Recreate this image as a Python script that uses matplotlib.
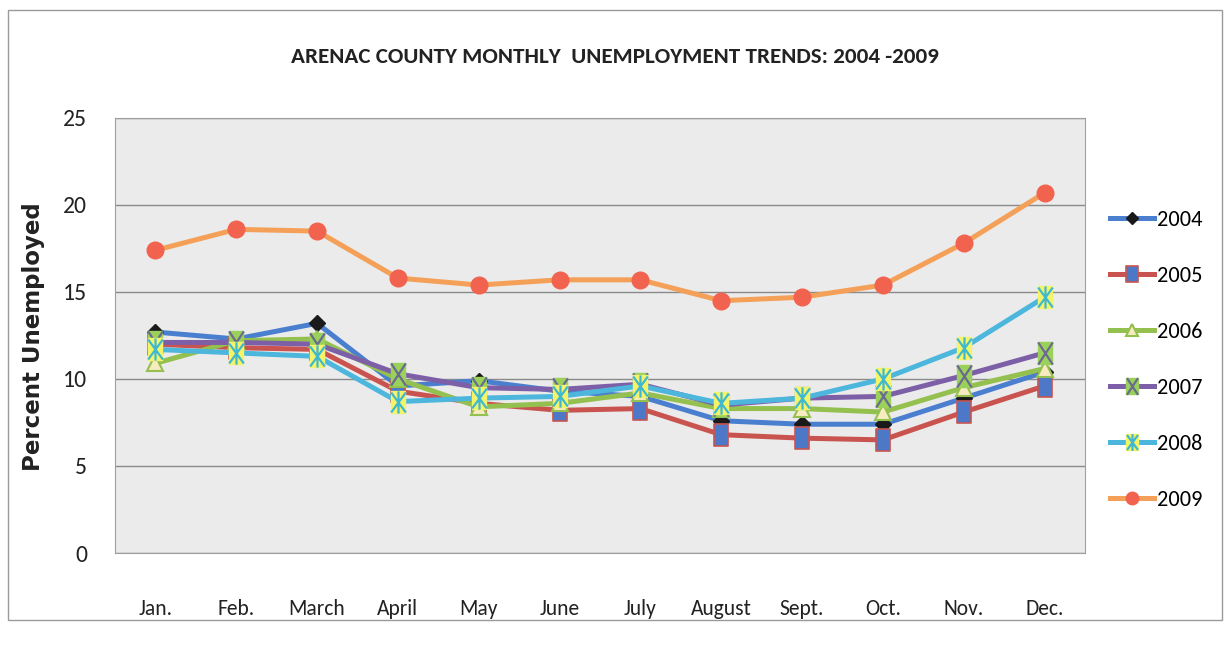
import matplotlib
matplotlib.use("Agg")
import matplotlib.pyplot as plt
from matplotlib import font_manager
from matplotlib.path import Path
from matplotlib.lines import Line2D
from matplotlib.patches import Rectangle
from matplotlib.legend_handler import HandlerTuple

months = ["Jan.", "Feb.", "March", "April", "May", "June", "July",
          "August", "Sept.", "Oct.", "Nov.", "Dec."]
years = ["2004", "2005", "2006", "2007", "2008", "2009"]
y2004 = [12.7, 12.3, 13.2, 9.6, 9.9, 9.3, 9.0, 7.6, 7.4, 7.4, 8.9, 10.4]
y2005 = [12.0, 11.8, 11.7, 9.3, 8.6, 8.2, 8.3, 6.8, 6.6, 6.5, 8.1, 9.6]
y2006 = [10.9, 12.2, 12.3, 10.0, 8.4, 8.6, 9.2, 8.3, 8.3, 8.1, 9.5, 10.6]
y2007 = [12.1, 12.1, 12.0, 10.3, 9.5, 9.4, 9.7, 8.5, 8.9, 9.0, 10.2, 11.5]
y2008 = [11.7, 11.5, 11.3, 8.7, 8.9, 9.0, 9.6, 8.6, 8.9, 10.0, 11.8, 14.7]
y2009 = [17.4, 18.6, 18.5, 15.8, 15.4, 15.7, 15.7, 14.5, 14.7, 15.4, 17.8, 20.7]
yticks = [0, 5, 10, 15, 20, 25]

available = {f.name for f in font_manager.fontManager.ttflist}
cands = ['Carlito', 'Liberation Sans Narrow', 'Lato']
FONT = next((c for c in cands if c in available), 'DejaVu Sans')
plt.rcParams['font.family'] = [FONT, 'DejaVu Sans']

tall = Path([(-0.33, -0.5), (0.33, -0.5), (0.33, 0.5), (-0.33, 0.5), (-0.33, -0.5)],
            [Path.MOVETO, Path.LINETO, Path.LINETO, Path.LINETO, Path.CLOSEPOLY])
tallx = Path([(-0.33, -0.5), (0.33, 0.5), (-0.33, 0.5), (0.33, -0.5)],
             [Path.MOVETO, Path.LINETO, Path.MOVETO, Path.LINETO])
tallstar = Path([(-0.33, -0.45), (0.33, 0.45), (-0.33, 0.45), (0.33, -0.45), (0, -0.5), (0, 0.5)],
                [Path.MOVETO, Path.LINETO, Path.MOVETO, Path.LINETO, Path.MOVETO, Path.LINETO])

line_colors = ['#4a7fcf', '#c9544f', '#93c04e', '#7d5fa8', '#4cb6dc', '#f4a058']

fig = plt.figure(figsize=(12.25, 6.5), dpi=100)
fig.patches.append(Rectangle((8 / 1225, 1 - 620 / 650), 1214 / 1225, 610 / 650,
                             transform=fig.transFigure, fill=False,
                             edgecolor='#9a9a9a', lw=1.0))
ax = fig.add_axes([115 / 1225, 1 - 553 / 650, 970 / 1225, 435 / 650])
ax.set_facecolor('#ebebeb')
x = list(range(len(months)))

lw = 3.6


def styles(k):
    """return (main style, overlay style or None) with marker size factor k"""
    MS = 16 * k
    return [
        (dict(color=line_colors[0], lw=lw, marker='D', ms=8 * k, mfc='#1a1a1a', mec='#1a1a1a'), None),
        (dict(color=line_colors[1], lw=lw, marker=tall, ms=MS, mfc='#4d78c8', mec='#c9544f', mew=1.2), None),
        (dict(color=line_colors[2], lw=lw, marker='^', ms=11 * k, mfc='#f6ecc0', mec='#93c04e', mew=1.5), None),
        (dict(color=line_colors[3], lw=lw, marker=tall, ms=MS, mfc='#9ad15a', mec='#9ad15a'),
         dict(ls='none', marker=tallx, ms=MS, mec='#6b6b8f', mew=1.6)),
        (dict(color=line_colors[4], lw=lw, marker=tall, ms=MS, mfc='#f4f46a', mec='#f4f46a'),
         dict(ls='none', marker=tallstar, ms=MS, mec='#3fb8d0', mew=1.6)),
        (dict(color=line_colors[5], lw=lw, marker='o', ms=12 * k, mfc='#f2634f', mec='#f2634f'), None),
    ]


data = [y2004, y2005, y2006, y2007, y2008, y2009]
for i, ((main, over), ys) in enumerate(zip(styles(1.0), data)):
    ax.plot(x, ys, zorder=3 + i, **main)
    if over is not None:
        ax.plot(x, ys, zorder=3.5 + i, **over)

handles = []
for main, over in styles(0.75):
    h = Line2D([], [], **main)
    if over is not None:
        handles.append((h, Line2D([], [], **over)))
    else:
        handles.append(h)

ax.set_xlim(-0.5, 11.5)
ax.set_ylim(0, 25)
ax.set_yticks(yticks)
ax.set_yticklabels([str(t) for t in yticks], fontsize=17, color='#222222')
ax.set_xticks(x)
ax.set_xticklabels(months, fontsize=15.5, color='#222222')
ax.tick_params(axis='both', length=0)
ax.tick_params(axis='x', pad=33)
ax.tick_params(axis='y', pad=20)
ax.grid(axis='y', color='#8a8a8a', lw=1.0)
ax.set_axisbelow(True)
for s in ax.spines.values():
    s.set_color('#a0a0a0')
    s.set_linewidth(0.8)

ax.set_ylabel('Percent Unemployed', family=['DejaVu Sans'], fontsize=16.5,
              fontweight='bold', color='#222222')
ax.yaxis.set_label_coords(-70 / 970, (553 - 337) / 435)

fig.text(615 / 1225, 1 - 57 / 650,
         'ARENAC COUNTY MONTHLY  UNEMPLOYMENT TRENDS: 2004 -2009',
         ha='center', va='center', fontsize=16.6,
         fontweight='bold', color='#222222')

leg = fig.legend(handles, years, loc='upper left',
                 bbox_to_anchor=(1110 / 1225, 1 - 210 / 650),
                 frameon=False, fontsize=16,
                 labelspacing=1.62,
                 handlelength=2.0, handletextpad=0.12, borderaxespad=0, borderpad=0,
                 handler_map={tuple: HandlerTuple(ndivide=1, pad=0)})

fig.savefig('out.png', dpi=100)
